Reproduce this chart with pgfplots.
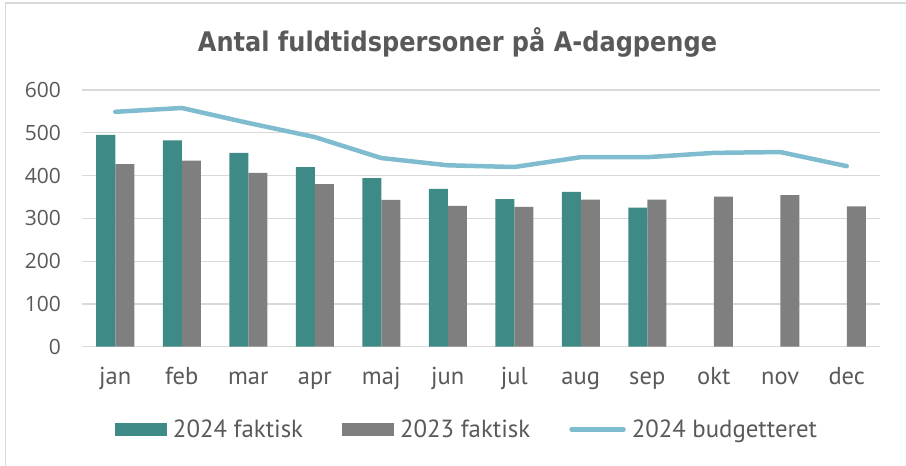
\documentclass[border=0pt]{standalone}
\usepackage{pgfplots}
\pgfplotsset{compat=1.18}
\usepackage{fontspec}
\setmainfont{PT Sans}
\newfontfamily\titlefont{DejaVu Sans}[FakeStretch=0.89]
\newfontfamily\tickfont{Open Sans}
\definecolor{tealbar}{HTML}{3E8A86}
\definecolor{graybar}{HTML}{7F7F7F}
\definecolor{budget}{HTML}{80BCD0}
\definecolor{txt}{HTML}{595959}
\definecolor{gridc}{HTML}{D9D9D9}
\begin{document}
\begin{tikzpicture}[x=1pt,y=1pt]
\useasboundingbox (0,0) rectangle (906,466);
\draw[gridc, line width=1.2pt] (5.5,0) -- (5.5,463) -- (906,463);
\node[anchor=center, text=txt, inner sep=0pt] at (457.5,424) {\titlefont\bfseries\fontsize{27}{27}\selectfont Antal fuldtidspersoner på A-dagpenge};
\begin{axis}[
  at={(82pt,119.3pt)}, anchor=south west,
  scale only axis, width=798pt, height=256.7pt,
  xmin=-0.5, xmax=11.5, ymin=0, ymax=600,
  ytick={0,100,200,300,400,500,600},
  xtick={0,...,11},
  xticklabels={jan,feb,mar,apr,maj,jun,jul,aug,sep,okt,nov,dec},
  axis line style={draw=none},
  major tick length=0pt,
  ymajorgrids, grid style={gridc, line width=1.2pt},
  /pgf/number format/assume math mode=true,
  yticklabel style={font=\tickfont\fontsize{21}{21}\selectfont, text=txt, inner sep=0pt, anchor=east, xshift=-21pt},
  xticklabel style={font=\fontsize{24.5}{24.5}\selectfont, text=txt, inner sep=0pt, anchor=base, yshift=-38.3pt},
  legend columns=3,
  legend style={at={(0,0)}, anchor=west, xshift=33pt, yshift=-82.8pt,
    draw=none, fill=none, inner sep=0pt, outer sep=0pt,
    nodes={inner sep=0pt, text=txt, font=\fontsize{24.8}{24.8}\selectfont},
    /tikz/every odd column/.append style={column sep=6pt},
    /tikz/every even column/.append style={column sep=39pt}},
]
\addplot[ybar, bar width=19pt, bar shift=-9.5pt, fill=tealbar, draw=none,
  legend image code/.code={\fill[tealbar] (0pt,-6.2pt) rectangle (52pt,6.2pt);}]
  coordinates {(0,495) (1,482) (2,453) (3,420) (4,394) (5,369) (6,345) (7,362) (8,325)};
\addlegendentry{2024 faktisk}
\addplot[ybar, bar width=19pt, bar shift=9.5pt, fill=graybar, draw=none,
  legend image code/.code={\fill[graybar] (0pt,-6.2pt) rectangle (52pt,6.2pt);}]
  coordinates {(0,427) (1,435) (2,406) (3,380) (4,343) (5,329) (6,327) (7,344) (8,344) (9,351) (10,354) (11,328)};
\addlegendentry{2023 faktisk}
\addplot[sharp plot, budget, line width=4.5pt, line cap=round, line join=round, mark=none,
  legend image code/.code={\draw[budget, line width=4.5pt, line cap=round] (2pt,0pt) -- (54pt,0pt);}]
  coordinates {(0,549) (1,558) (2,523) (3,490) (4,441) (5,424) (6,420) (7,443) (8,443) (9,453) (10,455) (11,422)};
\addlegendentry{2024 budgetteret}
\end{axis}
\end{tikzpicture}
\end{document}
